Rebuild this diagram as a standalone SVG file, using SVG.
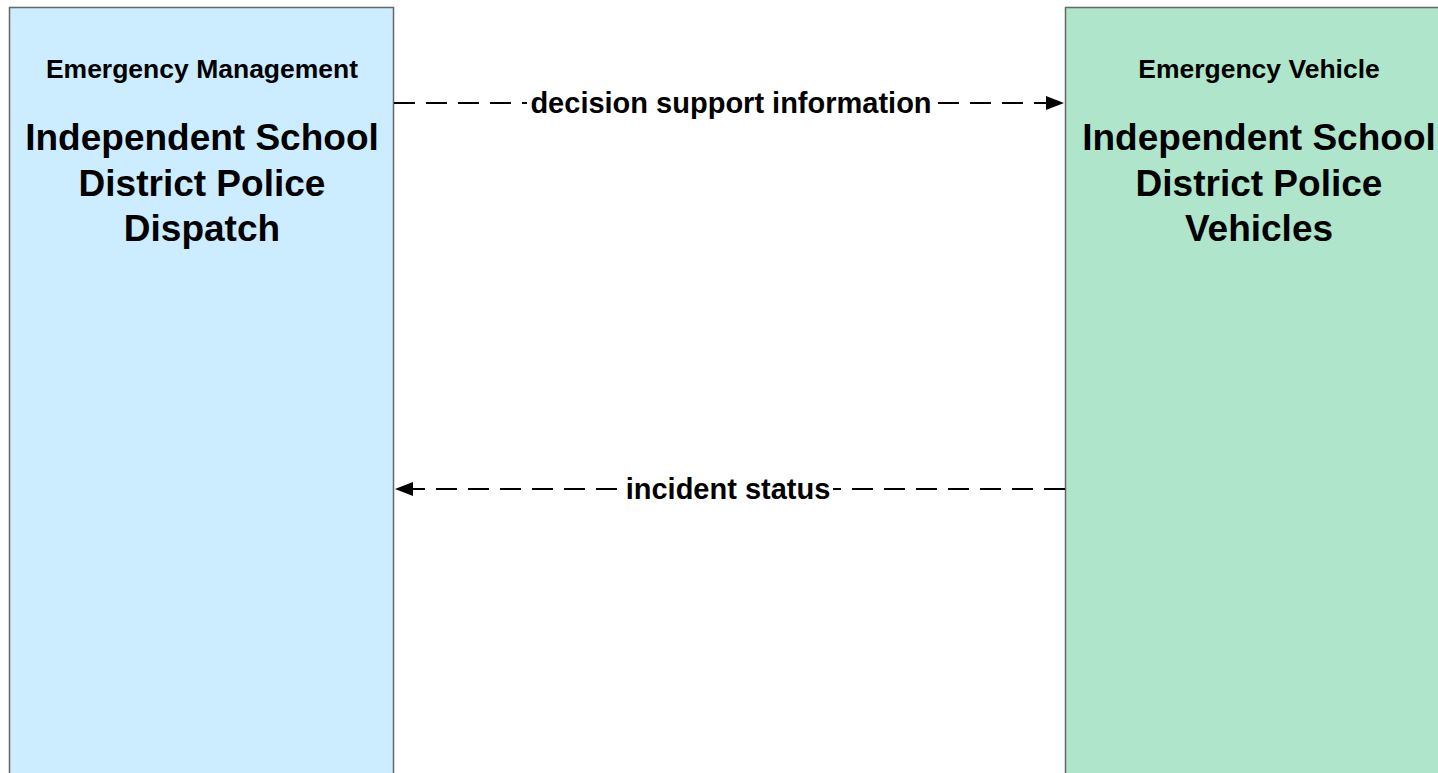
<svg xmlns="http://www.w3.org/2000/svg" width="1438" height="773" viewBox="0 0 1438 773">
<style>
.box{stroke:#666666;stroke-width:1.5}
.t{font-family:"Liberation Sans",Arial,sans-serif;font-weight:bold;fill:#000;text-anchor:middle}
.cat{font-size:26.5px}
.name{font-size:37px}
.lbl{font-size:29px}
.flow{fill:none;stroke:#000;stroke-width:2;stroke-dasharray:21 11}
</style>
<defs>
<marker id="ah" viewBox="0 0 18 14" refX="18" refY="7" markerWidth="18" markerHeight="14" markerUnits="userSpaceOnUse" orient="auto">
<path d="M0,0 L18,7 L0,14 Z" fill="#000"/>
</marker>
</defs>
<rect width="1438" height="773" fill="#fff"/>
<g id="node-dispatch">
<rect class="box" x="9.5" y="7.5" width="384" height="800" fill="#CCECFF"/>
<text class="t cat" x="202" y="78">Emergency Management</text>
<text class="t name" x="202" y="150">Independent School</text>
<text class="t name" x="202" y="196">District Police</text>
<text class="t name" x="202" y="241">Dispatch</text>
</g>
<g id="node-vehicles">
<rect class="box" x="1065.5" y="7.5" width="400" height="800" fill="#AFE6CB"/>
<text class="t cat" x="1259" y="78">Emergency Vehicle</text>
<text class="t name" x="1259" y="150">Independent School</text>
<text class="t name" x="1259" y="196">District Police</text>
<text class="t name" x="1259" y="241">Vehicles</text>
</g>
<g id="connectors">
<g id="flow-decision">
<path class="flow" d="M394,103 L1064,103" marker-end="url(#ah)"/>
<rect x="527" y="88" width="408" height="30" fill="#fff"/>
<text class="t lbl" x="731" y="113">decision support information</text>
</g>
<g id="flow-incident">
<path class="flow" d="M1065,489 L395,489" marker-end="url(#ah)"/>
<rect x="623" y="474" width="210" height="30" fill="#fff"/>
<text class="t lbl" x="728" y="499">incident status</text>
</g>
</g>
</svg>
